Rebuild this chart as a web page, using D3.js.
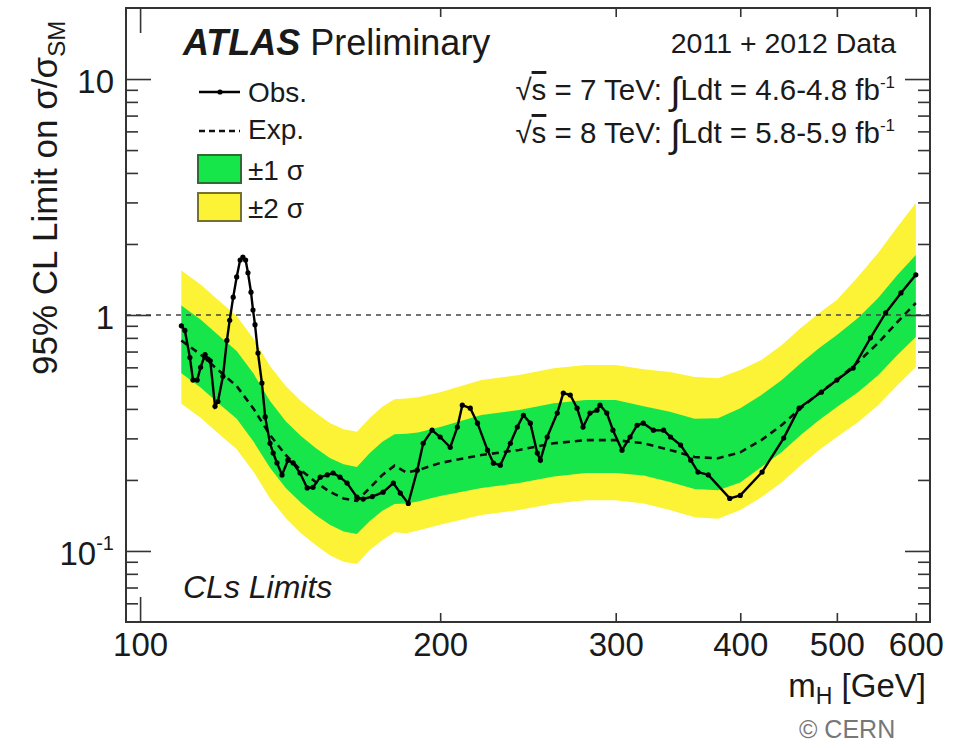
<!DOCTYPE html>
<html>
<head>
<meta charset="utf-8">
<script src="https://cdn.jsdelivr.net/npm/d3@7"></script>
<style>
  body { margin: 0; background: #fff; }
  svg text { font-family: "Liberation Sans", Arial, Helvetica, sans-serif; fill: #1a1a1a; }
  .tick line { stroke: #333; stroke-width: 1.6; }
</style>
</head>
<body>
<svg id="chart" width="959" height="748"></svg>
<script>
// bandes attendues (masse en GeV)
const bandMass = [110, 115, 120, 125, 130, 135, 140, 145, 150, 155, 160, 165, 170, 175, 180, 185, 190, 200,
  220, 240, 260, 280, 300, 320, 340, 360, 380, 400, 420, 440, 460, 480, 500, 525, 550, 575, 600];
const expected = [0.78, 0.68, 0.58, 0.50, 0.40, 0.31, 0.255, 0.22, 0.196, 0.178, 0.167, 0.163, 0.185, 0.21, 0.23, 0.215, 0.22, 0.236,
  0.255, 0.268, 0.286, 0.295, 0.295, 0.286, 0.268, 0.25, 0.247, 0.262, 0.295, 0.341, 0.403, 0.467, 0.53, 0.632, 0.761, 0.934, 1.124];
const green1Up = [1.098, 0.957, 0.817, 0.704, 0.563, 0.432, 0.355, 0.307, 0.273, 0.248, 0.233, 0.227, 0.26, 0.29, 0.312, 0.314, 0.318, 0.335,
  0.377, 0.396, 0.423, 0.436, 0.436, 0.41, 0.389, 0.363, 0.365, 0.403, 0.458, 0.529, 0.625, 0.725, 0.823, 0.971, 1.181, 1.479, 1.796];
const green1Lo = [0.566, 0.493, 0.421, 0.363, 0.29, 0.225, 0.185, 0.16, 0.142, 0.129, 0.121, 0.118, 0.134, 0.148, 0.158, 0.159, 0.162, 0.171,
  0.185, 0.194, 0.207, 0.214, 0.214, 0.209, 0.196, 0.183, 0.181, 0.195, 0.227, 0.262, 0.31, 0.359, 0.407, 0.471, 0.556, 0.677, 0.806];
const yellow2Up = [1.545, 1.347, 1.149, 0.991, 0.792, 0.608, 0.5, 0.432, 0.385, 0.349, 0.328, 0.32, 0.366, 0.408, 0.44, 0.443, 0.448, 0.47,
  0.53, 0.557, 0.595, 0.614, 0.614, 0.589, 0.574, 0.546, 0.54, 0.584, 0.645, 0.745, 0.881, 1.02, 1.158, 1.451, 1.833, 2.362, 2.984];
const yellow2Lo = [0.421, 0.367, 0.313, 0.27, 0.216, 0.167, 0.138, 0.119, 0.106, 0.096, 0.09, 0.088, 0.101, 0.111, 0.12, 0.119, 0.122, 0.129,
  0.142, 0.149, 0.159, 0.164, 0.164, 0.159, 0.149, 0.139, 0.137, 0.149, 0.169, 0.195, 0.231, 0.268, 0.304, 0.351, 0.415, 0.504, 0.601];

// limite observée
const obsMass = [110, 110.9, 112.2, 113, 114.1, 115, 116.2, 117, 117.6, 118.9, 119.7, 121.1, 122.2, 123, 124, 125, 126, 126.8,
  127.6, 128.3, 129.2, 129.8, 130.4, 131.3, 132.5, 133.5, 135, 136, 137.2, 138.8, 140.7, 142.4, 144.7, 147.1, 149.1,
  151.6, 154.1, 156.2, 158.7, 161.3, 165, 167.4, 171, 175.3, 179.5, 182.4, 185.8, 189.7, 192.3, 196.3, 200, 204.7,
  208.1, 210.5, 214.4, 218, 223.1, 226.2, 229.8, 235.2, 239, 242.4, 246.3, 250.3, 252.1, 256.1, 262.1, 265.8, 270.1,
  274.4, 278.2, 282.7, 287.3, 289.3, 293.9, 298.1, 304.4, 310.1, 315.2, 319.7, 327.3, 335.1, 340.5, 348.5, 356.8,
  362.8, 371.5, 390.4, 400, 420.7, 442.2, 458.2, 482.4, 500, 519.2, 540.4, 559.6, 579.8, 600];
const obsValue = [0.9, 0.86, 0.66, 0.53, 0.53, 0.6, 0.68, 0.65, 0.64, 0.41, 0.43, 0.55, 0.78, 0.95, 1.19, 1.45, 1.71, 1.76,
  1.71, 1.51, 1.25, 1.05, 0.91, 0.69, 0.515, 0.37, 0.286, 0.26, 0.236, 0.21, 0.2425, 0.236, 0.214, 0.185, 0.186,
  0.2055, 0.21, 0.214, 0.2055, 0.194, 0.169, 0.166, 0.17, 0.1775, 0.194, 0.176, 0.159, 0.22, 0.286, 0.325, 0.304, 0.275,
  0.335, 0.415, 0.403, 0.348, 0.2675, 0.2356, 0.231, 0.286, 0.335, 0.376, 0.348, 0.26, 0.2425, 0.304, 0.384, 0.467, 0.458,
  0.403, 0.335, 0.384, 0.395, 0.415, 0.384, 0.325, 0.2675, 0.304, 0.341, 0.348, 0.325, 0.325, 0.304, 0.281, 0.2425,
  0.216, 0.21, 0.167, 0.172, 0.216, 0.301, 0.403, 0.471, 0.53, 0.596, 0.8, 1.02, 1.24, 1.48];

const xMajor = [100];
const xMinor = [200, 300, 400, 500, 600];
const yMajor = [0.1, 1, 10];
const yMinor = [0.06, 0.07, 0.08, 0.09, 0.2, 0.3, 0.4, 0.5, 0.6, 0.7, 0.8, 0.9, 2, 3, 4, 5, 6, 7, 8, 9];
const smLine = [1];

const greenColor = "#17e64a";
const yellowColor = "#fcf236";

const svg = d3.select("#chart");
const fLeft = 126, fRight = 930, fTop = 8, fBottom = 622;

const x = d3.scaleLog().domain([96.8, 620]).range([fLeft, fRight]);
const y = d3.scaleLog().domain([0.05, 20]).range([fBottom, fTop]);

svg.append("clipPath").attr("id", "frame")
  .append("rect").attr("x", fLeft).attr("y", fTop).attr("width", fRight - fLeft).attr("height", fBottom - fTop);

const plot = svg.append("g").attr("clip-path", "url(#frame)");

const bands = bandMass.map((m, i) => ({
  m, e: expected[i], g0: green1Lo[i], g1: green1Up[i], y0: yellow2Lo[i], y1: yellow2Up[i]
}));

plot.append("path").datum(bands)
  .attr("fill", yellowColor)
  .attr("d", d3.area().x(d => x(d.m)).y0(d => y(d.y0)).y1(d => y(d.y1)));

plot.append("path").datum(bands)
  .attr("fill", greenColor)
  .attr("d", d3.area().x(d => x(d.m)).y0(d => y(d.g0)).y1(d => y(d.g1)));

// ligne attendue
plot.append("path").datum(bands)
  .attr("fill", "none").attr("stroke", "#111").attr("stroke-width", 2.6)
  .attr("stroke-dasharray", "7,5")
  .attr("d", d3.line().x(d => x(d.m)).y(d => y(d.e)));

// sigma/sigma_SM = 1
plot.selectAll(".sm").data(smLine).enter().append("line")
  .attr("x1", fLeft).attr("x2", fRight)
  .attr("y1", d => y(d)).attr("y2", d => y(d))
  .attr("stroke", "#444").attr("stroke-width", 1.6).attr("stroke-dasharray", "5,5");

// observée
const obs = obsMass.map((m, i) => ({ m, v: obsValue[i] }));
plot.append("path").datum(obs)
  .attr("fill", "none").attr("stroke", "#000").attr("stroke-width", 2.4)
  .attr("d", d3.line().x(d => x(d.m)).y(d => y(d.v)));
plot.selectAll(".pt").data(obs).enter().append("circle")
  .attr("cx", d => x(d.m)).attr("cy", d => y(d.v)).attr("r", 2.6).attr("fill", "#000");

// axes
const fmtY = d => d >= 1 ? String(d) : "10";
function cleanAxis(g) { g.select(".domain").remove(); g.selectAll(".tick line").attr("stroke", "#333"); }

const axL = svg.append("g").attr("transform", `translate(${fLeft},0)`)
  .call(d3.axisLeft(y).tickValues(yMajor).tickSize(-25).tickPadding(12).tickFormat(fmtY)).call(cleanAxis);
axL.selectAll("text").attr("font-size", 33).attr("dy", "0.42em")
  .each(function(d) {
    if (d < 1) d3.select(this).append("tspan").attr("dy", "-0.75em").attr("font-size", 20).text("-1");
  });
svg.append("g").attr("transform", `translate(${fLeft},0)`)
  .call(d3.axisLeft(y).tickValues(yMinor).tickSize(-12).tickFormat("")).call(cleanAxis);
svg.append("g").attr("transform", `translate(${fRight},0)`)
  .call(d3.axisRight(y).tickValues(yMajor).tickSize(-25).tickFormat("")).call(cleanAxis);
svg.append("g").attr("transform", `translate(${fRight},0)`)
  .call(d3.axisRight(y).tickValues(yMinor).tickSize(-12).tickFormat("")).call(cleanAxis);

const axB1 = svg.append("g").attr("transform", `translate(0,${fBottom})`)
  .call(d3.axisBottom(x).tickValues(xMajor).tickSize(-25).tickPadding(11).tickFormat(d3.format("d"))).call(cleanAxis);
const axB2 = svg.append("g").attr("transform", `translate(0,${fBottom})`)
  .call(d3.axisBottom(x).tickValues(xMinor).tickSize(-9).tickPadding(11).tickFormat(d3.format("d"))).call(cleanAxis);
[axB1, axB2].forEach(a => a.selectAll("text").attr("font-size", 33));
svg.append("g").attr("transform", `translate(0,${fTop})`)
  .call(d3.axisTop(x).tickValues(xMajor).tickSize(-25).tickFormat("")).call(cleanAxis);
svg.append("g").attr("transform", `translate(0,${fTop})`)
  .call(d3.axisTop(x).tickValues(xMinor).tickSize(-9).tickFormat("")).call(cleanAxis);

svg.selectAll(".tick text").attr("fill", "#1a1a1a").attr("font-family", "Liberation Sans, Arial, sans-serif");

// cadre
svg.append("rect").attr("x", fLeft).attr("y", fTop).attr("width", fRight - fLeft).attr("height", fBottom - fTop)
  .attr("fill", "none").attr("stroke", "#333").attr("stroke-width", 2);

// titres des axes
const yt = svg.append("text").attr("transform", "translate(57,375) rotate(-90)").attr("font-size", 35);
yt.append("tspan").text("95% CL Limit on σ/σ");
yt.append("tspan").attr("dy", 8).attr("font-size", 24).text("SM");

const xt = svg.append("text").attr("x", 926).attr("y", 697).attr("text-anchor", "end").attr("font-size", 33);
xt.append("tspan").text("m");
xt.append("tspan").attr("dy", 7).attr("font-size", 23).text("H");
xt.append("tspan").attr("dy", -7).text(" [GeV]");

// textes
const atlas = svg.append("text").attr("x", 183).attr("y", 55).attr("font-size", 36);
atlas.append("tspan").attr("font-weight", "bold").attr("font-style", "italic").text("ATLAS");
atlas.append("tspan").text(" Preliminary");

svg.append("text").attr("x", 896).attr("y", 53).attr("text-anchor", "end").attr("font-size", 28.5)
  .text("2011 + 2012 Data");

function lumiLine(yPos, energy, lumi) {
  const t = svg.append("text").attr("x", 895).attr("y", yPos).attr("text-anchor", "end").attr("font-size", 29.5);
  t.append("tspan").text("√");
  t.append("tspan").attr("text-decoration", "overline").text("s");
  t.append("tspan").text(` = ${energy} TeV:  `);
  t.append("tspan").attr("font-size", 38).attr("dy", 4).text("∫");
  t.append("tspan").attr("dy", -4).text(`Ldt = ${lumi} fb`);
  t.append("tspan").attr("dy", -12).attr("font-size", 17).text("-1");
}
lumiLine(100, 7, "4.6-4.8");
lumiLine(143, 8, "5.8-5.9");

svg.append("text").attr("x", 183).attr("y", 598).attr("font-size", 32).attr("font-style", "italic")
  .text("CLs Limits");

svg.append("text").attr("x", 799).attr("y", 738).attr("font-size", 25)
  .style("fill", "#777").text("© CERN");

// légende
const leg = svg.append("g");
leg.append("line").attr("x1", 199).attr("x2", 240).attr("y1", 92).attr("y2", 92)
  .attr("stroke", "#000").attr("stroke-width", 2.4);
leg.append("circle").attr("cx", 220).attr("cy", 92).attr("r", 2.6).attr("fill", "#000");
leg.append("text").attr("x", 248).attr("y", 102).attr("font-size", 28).text("Obs.");
leg.append("line").attr("x1", 199).attr("x2", 240).attr("y1", 131).attr("y2", 131)
  .attr("stroke", "#111").attr("stroke-width", 2.4).attr("stroke-dasharray", "6,4");
leg.append("text").attr("x", 248).attr("y", 139).attr("font-size", 28).text("Exp.");
leg.append("rect").attr("x", 198).attr("y", 155).attr("width", 43).attr("height", 28)
  .attr("fill", greenColor).attr("stroke", "#2f6b35").attr("stroke-width", 2);
leg.append("text").attr("x", 248).attr("y", 180).attr("font-size", 28).text("±1 σ");
leg.append("rect").attr("x", 198).attr("y", 193).attr("width", 43).attr("height", 28)
  .attr("fill", yellowColor).attr("stroke", "#76722c").attr("stroke-width", 2);
leg.append("text").attr("x", 248).attr("y", 218).attr("font-size", 28).text("±2 σ");
</script>
</body>
</html>
